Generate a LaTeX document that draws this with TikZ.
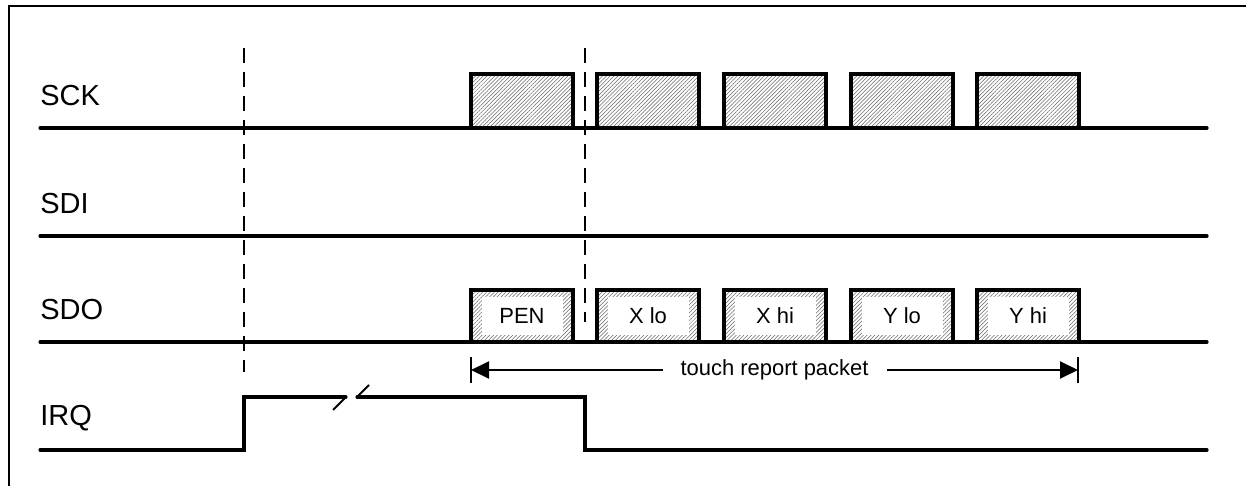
\documentclass[tikz,border=0pt]{standalone}
\usepackage{fontspec}
\setmainfont{Liberation Sans}
\usetikzlibrary{arrows.meta,patterns.meta,positioning}

\begin{document}
\begin{tikzpicture}[x=0.02cm, y=-0.02cm,
        signal/.style={line width=1.8pt, line cap=round},
        marker/.style={line width=1.1pt, dash pattern=on 0.3cm off 0.18cm},
        siglabel/.style={anchor=west, inner sep=0pt, font=\fontsize{16.5}{19}\selectfont},
        clkbox/.style={draw, line width=1.8pt, minimum width=2.04cm, minimum height=1.08cm, inner sep=0pt,
        pattern={Lines[angle=45, distance=1.55pt, line width=0.3pt]}, pattern color=black!60},
        databox/.style={clkbox, minimum height=1.04cm},
        datatext/.style={fill=white, minimum width=1.62cm, minimum height=0.76cm, inner sep=0pt,
        font=\fontsize{12.5}{15}\selectfont}]
        \useasboundingbox (0,0) rectangle (1246,486);
        \draw [line width=1.4pt] (9,486) -- (9,6) -- (1246,6);

        \node (sck) [siglabel] at (40,96) {SCK};
        \node (sdi) [siglabel] at (40,204) {SDI};
        \node (sdo) [siglabel] at (40,310) {SDO};
        \node (irq) [siglabel] at (40,418) {IRQ};

        \draw [signal] (40,128) -- (1207,128);
        \draw [signal] (40,236) -- (1207,236);
        \draw [signal] (40,342) -- (1207,342);

        \foreach \cx [count=\i] in {522,648,775,902,1028}
            \node (clk\i) [clkbox] at (\cx,101) {};

        \foreach \cx/\txt [count=\i] in {522/PEN,648/X lo,775/X hi,902/Y lo,1028/Y hi} {
            \node (byte\i) [databox] at (\cx,316) {};
            \node (name\i) [datatext] at (byte\i) {\txt};
        }

        \draw [marker] (244,48) -- (244,372);
        \draw [marker] (585,48) -- (585,322);

        \draw [signal] (40,450) -- (244,450) -- (244,397) -- (346,397);
        \draw [signal] (357,397) -- (585,397) -- (585,450) -- (1207,450);
        \draw [line width=1.1pt] (346,397) -- (333,410);
        \draw [line width=1.1pt] (357,397) -- (369,385);

        \coordinate (pkt-start) at (471,370);
        \coordinate (pkt-end) at (1078,370);
        \draw [line width=0.9pt] (471,357) -- (471,383);
        \draw [line width=0.9pt] (1078,357) -- (1078,383);
        \draw [line width=1.1pt, {Triangle[length=0.36cm, width=0.34cm]}-{Triangle[length=0.36cm, width=0.34cm]}]
            (pkt-start) -- node (pkt) [fill=white, inner xsep=0.36cm, inner ysep=1pt, font=\fontsize{12.5}{15}\selectfont] {touch report packet} (pkt-end);
\end{tikzpicture}
\end{document}
